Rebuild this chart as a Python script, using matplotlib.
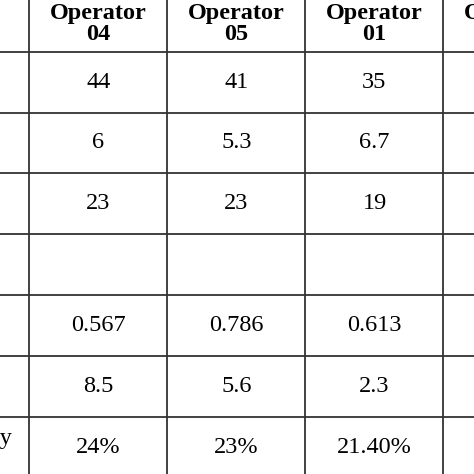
import matplotlib
matplotlib.use("Agg")
import matplotlib.pyplot as plt

# Table content (cropped view of a larger table)
operators = ["Operator\n04", "Operator\n05", "Operator\n01", "Operator\n02"]
row1 = ["44", "41", "35", ""]
row2 = ["6", "5.3", "6.7", ""]
row3 = ["23", "23", "19", ""]
row4 = ["", "", "", ""]
row5 = ["0.567", "0.786", "0.613", ""]
row6 = ["8.5", "5.6", "2.3", ""]
row7 = ["24%", "23%", "21.40%", ""]
rows = [row1, row2, row3, row4, row5, row6, row7]
row_labels = ["", "", "", "", "", "", "Efficiency"]

# layout in pixels
col_lines = [29.5, 167, 305, 443]
col_w = 138
row_lines = [52, 112.5, 173, 234, 295, 356, 417]
row_h = 61

fig = plt.figure(figsize=(4.74, 4.74), dpi=100)
ax = fig.add_axes([0, 0, 1, 1])
ax.set_xlim(0, 474)
ax.set_ylim(474, 0)
ax.axis("off")

lc = "#333333"
for x in col_lines:
    ax.plot([x, x], [-5, 480], color=lc, lw=1.3)
for y in row_lines:
    ax.plot([-5, 480], [y, y], color=lc, lw=1.3)

font = "Liberation Serif"
for j, name in enumerate(operators):
    cx = col_lines[0] + col_w * (j + 0.5)
    ax.text(cx, 24, name, ha="center", va="center", family=font,
            fontsize=17.5, fontweight="bold", linespacing=1.05)

for i, vals in enumerate(rows):
    cy = row_lines[i] + row_h / 2
    for j, v in enumerate(vals):
        cx = col_lines[0] + col_w * (j + 0.5)
        ax.text(cx, cy, v, ha="center", va="center", family=font, fontsize=17.5)
    ax.text(12, cy - 9, row_labels[i], ha="right", va="center", family=font, fontsize=17.5)

fig.savefig("out.png", dpi=100, facecolor="white")
